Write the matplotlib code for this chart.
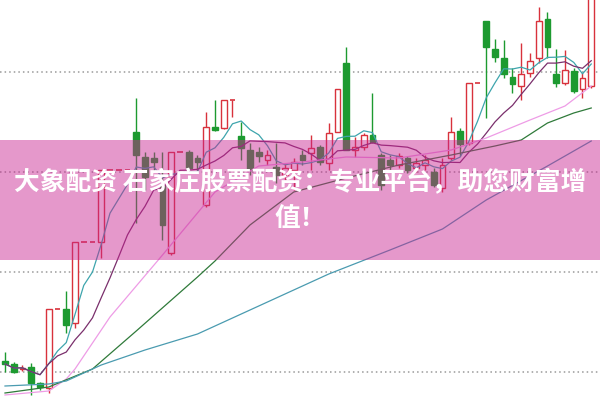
import numpy as np
import pandas as pd
import matplotlib
matplotlib.use('Agg')
import matplotlib.pyplot as plt
from matplotlib.patches import Rectangle

plt.rcParams['font.family'] = ['Noto Sans CJK SC', 'DejaVu Sans']

# K线数据（开、收、高、低）
opens = [11.1, 10.8, 10.35, 10.5, 8.9, 8.4, 16.3, 16.3, 14.9, 23.0,
         23.0, 23.0, 30.2, 30.2, 30.2, 34.0, 31.5, 31.4, 28.7, 21.9,
         32.0, 32.0, 31.4, 26.7, 34.5, 34.4, 37.2, 33.6, 32.2, 32.0,
         31.2, 30.5, 29.7, 30.2, 31.7, 31.9, 32.5, 30.9, 34.0, 40.9,
         32.2, 32.5, 33.7, 31.7, 31.2, 30.7, 31.4, 30.4, 30.7, 30.0,
         28.4, 31.4, 34.1, 32.9, 38.9, 45.1, 42.3, 41.4, 39.5, 38.6,
         39.9, 41.4, 45.3, 39.8, 38.9, 40.1, 38.3, 38.6]
closes = [10.8, 10.0, 10.45, 8.9, 8.5, 16.3, 16.3, 14.7, 23.0, 23.0,
          23.0, 30.2, 30.2, 30.2, 30.2, 31.7, 29.5, 31.0, 24.7, 32.0,
          32.0, 30.4, 31.0, 34.5, 34.2, 37.2, 37.2, 32.4, 30.2, 31.6,
          31.7, 29.7, 30.4, 31.0, 31.2, 32.4, 31.0, 33.9, 38.3, 32.2,
          32.5, 33.7, 33.0, 28.7, 30.7, 31.6, 30.2, 30.9, 31.2, 28.7,
          30.7, 34.0, 32.8, 38.9, 38.9, 42.5, 41.5, 39.8, 38.8, 39.8,
          41.1, 45.1, 42.5, 38.9, 40.2, 38.1, 39.4, 47.4]
highs = [12.0, 11.0, 10.7, 10.9, 9.0, 16.3, 16.3, 18.1, 23.0, 23.0,
         23.0, 30.2, 30.2, 30.2, 30.2, 37.4, 32.0, 32.0, 32.0, 32.0,
         32.0, 32.2, 31.7, 36.0, 37.2, 37.2, 37.2, 35.0, 32.9, 32.5,
         32.2, 32.9, 30.9, 31.4, 32.2, 33.7, 32.7, 34.9, 38.3, 42.5,
         33.5, 33.9, 37.9, 31.9, 31.7, 31.9, 31.6, 31.4, 31.7, 30.4,
         31.4, 35.5, 34.4, 38.9, 38.9, 45.1, 43.3, 43.2, 40.4, 42.9,
         41.9, 46.5, 46.0, 42.3, 42.2, 40.4, 39.9, 47.7]
lows = [10.0, 9.9, 10.1, 7.7, 8.2, 7.9, 16.3, 13.9, 14.4, 23.0,
        23.0, 21.4, 30.2, 30.2, 30.2, 24.9, 28.2, 30.0, 23.2, 21.7,
        32.0, 30.0, 30.0, 26.5, 34.1, 34.3, 35.5, 31.2, 29.7, 31.0,
        30.7, 28.9, 29.2, 28.2, 30.7, 30.2, 30.7, 30.2, 34.0, 32.2,
        31.5, 32.2, 32.9, 28.2, 30.2, 30.4, 29.9, 30.0, 30.2, 28.5,
        28.0, 31.2, 31.6, 32.7, 38.9, 35.4, 41.0, 39.4, 37.9, 37.2,
        39.5, 40.9, 41.4, 38.5, 38.7, 37.9, 37.4, 38.4]

# 长周期均线（读图取点）
ma20_idx = [0, 5, 7, 8, 12, 18, 24, 29, 34, 39, 45, 51, 55, 60, 64, 67]
ma20_val = [7.7, 8.1, 9.3, 10.3, 15.5, 21.7, 28.0, 30.6, 31.0, 31.5, 31.4, 32.2, 33.4, 35.2, 36.6, 38.6]
ma30_idx = [0, 5, 10, 15, 22, 24, 28, 33, 39, 45, 51, 56, 59, 62, 65, 67]
ma30_val = [7.9, 8.5, 10.3, 14.1, 19.5, 21.1, 24.7, 28.0, 29.4, 30.7, 31.7, 32.6, 33.2, 34.9, 35.9, 36.4]
ma60_idx = [0, 5, 7, 11, 16, 22, 30, 37, 44, 50, 55, 62, 67]
ma60_val = [8.6, 8.8, 9.1, 10.7, 12.2, 13.8, 17.0, 19.8, 22.2, 24.3, 27.2, 30.6, 33.1]

grid_levels = [10, 20, 30, 40]
title_lines = ['大象配资 石家庄股票配资：专业平台，助您财富增', '值！']

red = '#d8323c'
green = '#1d9a30'

fig = plt.figure(figsize=(6, 4), dpi=100)
ax = fig.add_axes([0, 0, 1, 1])
ax.set_xlim(-0.571, 68.0)
ax.set_ylim(7.2, 47.2)
ax.axis('off')

for g in grid_levels:
    ax.axhline(g, color='#9a9a9a', lw=1.1, ls=(0, (1, 2)), zorder=1)

w = 0.68
for i in range(len(closes)):
    o, c, h, l = opens[i], closes[i], highs[i], lows[i]
    top, bot = max(o, c), min(o, c)
    if c > o:
        ax.add_patch(Rectangle((i - w / 2, bot), w, top - bot, fc='white', ec=red, lw=1.0, zorder=2))
        ax.vlines(i, top, h, color=red, lw=1.0, zorder=2)
        ax.vlines(i, l, bot, color=red, lw=1.0, zorder=2)
    elif c < o:
        ax.vlines(i, l, h, color=green, lw=1.0, zorder=2)
        ax.add_patch(Rectangle((i - w / 2, bot), w, top - bot, fc=green, ec=green, lw=1.0, zorder=2))
    else:
        ax.vlines(i, l, h, color=red, lw=1.0, zorder=2)
        ax.hlines(o, i - w / 2, i + w / 2, color=red, lw=1.2, zorder=2)

s = pd.Series(closes)
x = np.arange(len(closes))
ax.plot(x, s.rolling(5, min_periods=1).mean(), color='#3ea5ad', lw=0.9, zorder=3)
ax.plot(x, s.rolling(10, min_periods=1).mean(), color='#7a2f6c', lw=0.9, zorder=3)
ax.plot(ma20_idx, ma20_val, color='#ee9ce6', lw=0.9, zorder=3)
ax.plot(ma30_idx, ma30_val, color='#2f7a3a', lw=0.9, zorder=3)
ax.plot(ma60_idx, ma60_val, color='#4a9bb0', lw=0.9, zorder=3)

# 粉色横幅
ax.add_patch(Rectangle((0, 0.35), 1, 0.30, transform=ax.transAxes,
                       fc='#c82491', alpha=0.47, lw=0, zorder=5))
fig.text(0.5, 1 - 183 / 400, title_lines[0], ha='center', va='center',
         color='white', fontsize=18.5, fontweight='bold', zorder=6)
fig.text(0.5, 1 - 218 / 400, title_lines[1], ha='center', va='center',
         color='white', fontsize=18.5, fontweight='bold', zorder=6)

fig.savefig('out.png', dpi=100)
